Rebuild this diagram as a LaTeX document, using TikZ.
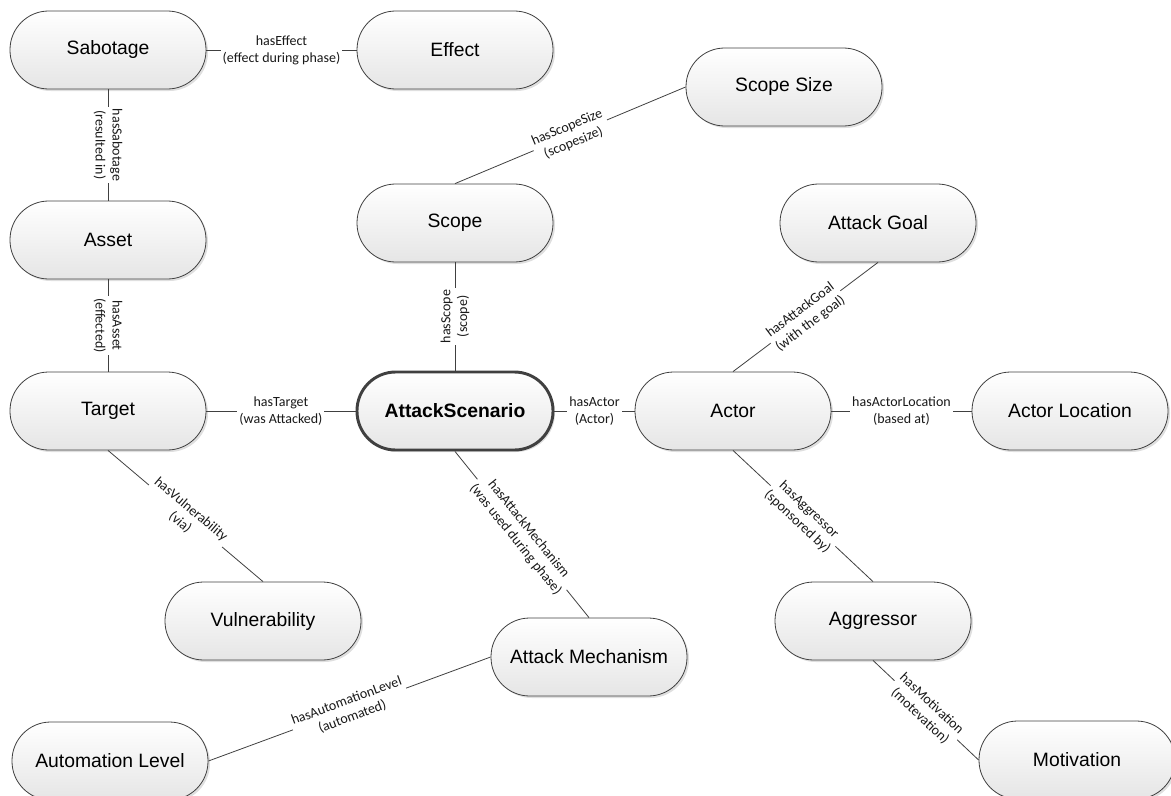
\documentclass[tikz,border=0pt]{standalone}
\usepackage{fontspec}
\newfontfamily\nodefont{Liberation Sans}
\newfontfamily\lblfont{Carlito}
\usetikzlibrary{shadows}
\begin{document}
\begin{tikzpicture}[x=0.75pt,y=-0.75pt,
  ent/.style={rectangle, rounded corners=29pt, minimum width=147pt, minimum height=58.5pt,
    draw=black!75, line width=0.6pt, top color=white, bottom color=black!10,
    drop shadow={opacity=0.25, shadow xshift=1.5pt, shadow yshift=-1.5pt},
    font=\nodefont\fontsize{14.5}{17}\selectfont, text=black},
  mainent/.style={ent, line width=2.2pt, draw=black!75, font=\nodefont\bfseries\fontsize{14.5}{17}\selectfont},
  rel/.style={draw=black!75, line width=0.6pt},
  lbl/.style={fill=white, inner sep=1.5pt, align=center, text=black!90,
    font=\lblfont\fontsize{10.5}{12.6}\selectfont}
]
\useasboundingbox (0,0) rectangle (1171,796);
% nodes
\node[ent] (sab) at (108,50) {Sabotage};
\node[ent] (eff) at (455,50) {Effect};
\node[ent] (ss)  at (784,87) {Scope Size};
\node[ent] (ast) at (108,240) {Asset};
\node[ent] (sc)  at (455,223) {Scope};
\node[ent] (ag)  at (878,223) {Attack Goal};
\node[ent] (tg)  at (108,411) {Target};
\node[mainent] (as) at (455,411) {AttackScenario};
\node[ent] (act) at (733,411) {Actor};
\node[ent] (al)  at (1070,411) {Actor Location};
\node[ent] (vul) at (263,621) {Vulnerability};
\node[ent] (am)  at (589,657) {Attack Mechanism};
\node[ent] (agg) at (873,621) {Aggressor};
\node[ent] (aut) at (110,761) {Automation Level};
\node[ent] (mot) at (1077,760) {Motivation};
% connectors
\draw[rel] (sab) -- node[lbl]{hasEffect\\(effect during phase)} (eff);
\draw[rel] (sab.south) -- node[lbl, rotate=-90]{hasSabotage\\(resulted in)} (ast.north);
\draw[rel] (ast.south) -- node[lbl, rotate=-90]{hasAsset\\(effected)} (tg.north);
\draw[rel] (tg) -- node[lbl]{hasTarget\\(was Attacked)} (as);
\draw[rel] (tg.south) -- node[lbl, sloped]{hasVulnerability\\(via)} (vul.north);
\draw[rel] (sc.north) -- node[lbl, sloped]{hasScopeSize\\(scopesize)} (ss.west);
\draw[rel] (as.north) -- node[lbl, rotate=90]{hasScope\\(scope)} (sc.south);
\draw[rel] (as) -- node[lbl]{hasActor\\(Actor)} (act);
\draw[rel] (as.south) -- node[lbl, sloped]{hasAttackMechanism\\(was used during phase)} (am.north);
\draw[rel] (aut.east) -- node[lbl, sloped]{hasAutomationLevel\\(automated)} (am.west);
\draw[rel] (act.north) -- node[lbl, sloped]{hasAttackGoal\\(with the goal)} (ag.south);
\draw[rel] (act) -- node[lbl]{hasActorLocation\\(based at)} (al);
\draw[rel] (act.south) -- node[lbl, sloped]{hasAggressor\\(sponsored by)} (agg.north);
\draw[rel] (agg.south) -- node[lbl, sloped]{hasMotivation\\(motevation)} (mot.west);
\end{tikzpicture}
\end{document}
